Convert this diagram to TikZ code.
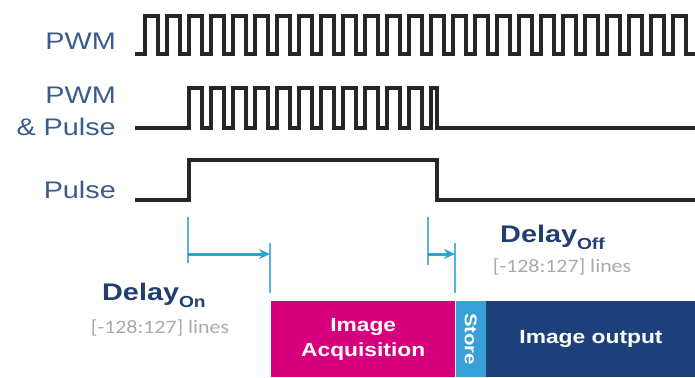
\documentclass[tikz,border=0pt]{standalone}
\usepackage{fontspec}
\setmainfont[FakeStretch=1.2]{Liberation Sans}
\newfontfamily\rangefont[FakeStretch=1.15]{Carlito}
\usepackage{tikz}
\usetikzlibrary{arrows.meta}

\definecolor{lblblue}{RGB}{58,92,140}
\definecolor{dlyblue}{RGB}{35,62,112}
\definecolor{arrblue}{RGB}{45,162,212}
\definecolor{acqpink}{RGB}{214,0,124}
\definecolor{storeblue}{RGB}{55,160,215}
\definecolor{outnavy}{RGB}{30,64,122}
\definecolor{rangegray}{RGB}{170,170,170}

\begin{document}
\begin{tikzpicture}[>={Stealth[length=11pt, width=10pt]}, x=1pt, y=-1pt,
    wave/.style={line width=3.5pt, line join=miter, black!85},
    sig/.style={font=\fontsize{24}{32}\selectfont, text=lblblue, inner sep=0pt},
    dly/.style={font=\bfseries\fontsize{24}{28}\selectfont, text=dlyblue, inner sep=0pt},
    rangetext/.style={font=\rangefont\fontsize{19}{24}\selectfont, text=rangegray, inner sep=0pt},
    tickline/.style={arrblue!80, line width=1.5pt},
    delayarrow/.style={arrblue, line width=3pt, ->},
    stage/.style={minimum height=76pt, inner sep=0pt, text=white, align=center,
                  font=\bfseries\fontsize{19}{25}\selectfont}]
    \useasboundingbox (0,0) rectangle (695,377);

    % 左侧信号名
    \node[sig, anchor=base east] (pwmlbl) at (116,50) {PWM};
    \node[sig, anchor=east, align=right] (andlbl) at (116,111) {PWM\\\& Pulse};
    \node[sig, anchor=base east] (pulselbl) at (116,198) {Pulse};

    % 三条波形
    \draw[wave] (135,54) -- (145,54)
        foreach \k in {1,...,25} { -- ++(0,-38) -- ++(13,0) -- ++(0,38) -- ++(9,0) };
    \draw[wave] (135,128) -- (189,128)
        foreach \k in {2,...,12} { -- ++(0,-40) -- ++(13,0) -- ++(0,40) -- ++(9,0) }
        -- ++(0,-40) -- (437,88) -- (437,128) -- (695,128);
    \draw[wave] (135,200) -- (189,200) -- (189,160) -- (437,160) -- (437,200) -- (695,200);

    % 延时标记
    \coordinate (ontop) at (188,217);
    \coordinate (onbot) at (188,263);
    \coordinate (onendtop) at (270,243);
    \coordinate (onendbot) at (270,293);
    \coordinate (offtop) at (428,217);
    \coordinate (offbot) at (428,265);
    \coordinate (offendtop) at (455,243);
    \coordinate (offendbot) at (455,293);
    \draw[tickline] (ontop) -- (onbot);
    \draw[tickline] (onendtop) -- (onendbot);
    \draw[tickline] (offtop) -- (offbot);
    \draw[tickline] (offendtop) -- (offendbot);
    \draw[delayarrow] (ontop |- 0,254) -- (onendtop |- 0,254);
    \draw[delayarrow] (offtop |- 0,254) -- (offendtop |- 0,254);

    \node[dly, anchor=base west] (dlyon) at (102,300)
        {Delay\raisebox{-7pt}{\fontsize{16}{16}\selectfont On}};
    \node[rangetext] (rangeon) at (160,328) {[-128:127] lines};
    \node[dly, anchor=base west] (dlyoff) at (500,242)
        {Delay\raisebox{-7pt}{\fontsize{16}{16}\selectfont Off}};
    \node[rangetext] (rangeoff) at (562,267) {[-128:127] lines};

    % 下方阶段
    \node[stage, fill=acqpink, minimum width=184pt, anchor=north west] (acq) at (271,301)
        {Image\\Acquisition};
    \node[stage, fill=storeblue, minimum width=30pt, anchor=north west] (store) at (acq.north east)
        {\fontsize{17}{17}\selectfont\rotatebox{-90}{Store}};
    \node[stage, fill=outnavy, minimum width=210pt, anchor=north west] (out) at (store.north east)
        {Image output};
\end{tikzpicture}
\end{document}
